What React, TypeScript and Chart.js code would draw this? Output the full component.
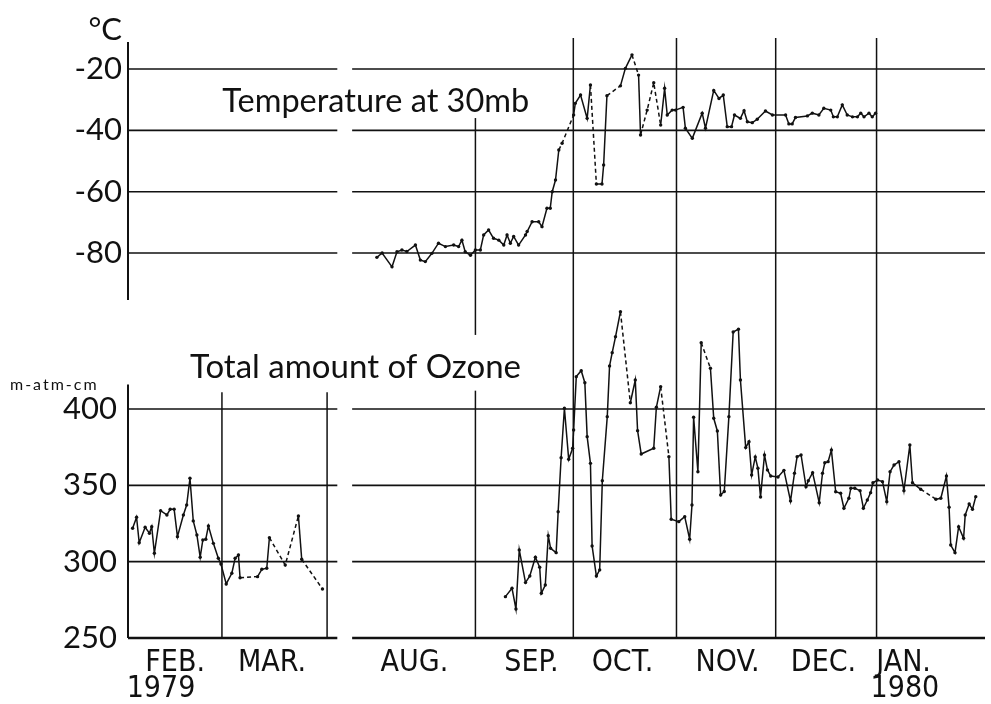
import React, { useEffect, useRef } from "react";
import { Chart, registerables } from "chart.js";
Chart.register(...registerables);

// x values are days counted from 1 Feb 1979 (with the Apr–Jul break collapsed)
const tempDays = [75.5, 77.1, 80.1, 81.6, 83.1, 84.6, 87.2, 88.7, 90.2, 92.2, 94.2, 96.3, 98.8, 100.3, 101.3, 102.3, 103.9, 105.4, 106.9, 107.9, 109.4, 110.9, 112.5, 114.0, 115.0, 116.0, 117.0, 118.5, 120.6, 121.1, 122.6, 124.6, 125.6, 127.1, 128.1, 128.7, 129.7, 130.7, 131.7, 135.2, 135.7, 137.3, 139.3, 140.3, 142.1, 143.8, 144.3, 145.3, 149.4, 150.9, 152.9, 154.9, 155.5, 157.5, 159.5, 161.6, 162.8, 163.6, 165.1, 166.1, 168.4, 169.1, 171.2, 174.2, 175.2, 177.7, 179.3, 180.6, 181.8, 183.1, 184.0, 185.8, 186.9, 187.9, 189.4, 190.9, 193.4, 195.5, 199.5, 200.5, 201.5, 202.5, 206.1, 207.6, 209.6, 211.1, 213.2, 214.0, 215.2, 216.7, 218.2, 219.8, 221.3, 222.3, 223.3, 224.8, 225.8, 226.8];
const tempValues = [-81.4, -80, -84.5, -79.6, -79, -79.5, -77.4, -82.3, -82.8, -80.1, -76.8, -77.9, -77.4, -77.9, -75.8, -79.6, -80.7, -79, -79, -74.1, -72.5, -75.2, -75.8, -77.4, -74.1, -76.8, -74.6, -77.4, -74.1, -73, -69.8, -69.8, -71.4, -65.4, -65.4, -60, -56.2, -46.4, -44.2, -35, -31.2, -28.5, -36.1, -25.2, -57.5, -57.5, -51.3, -28.7, -25.5, -19.8, -15.4, -22, -41.5, -33.4, -24.5, -38.3, -26.3, -35, -33.4, -33.4, -32.5, -39.3, -42.6, -34.4, -39.3, -27, -29.6, -28.5, -38.8, -38.8, -35, -36.1, -33.6, -37.2, -37.5, -36.4, -33.7, -35, -35, -37.9, -37.9, -35.8, -35.3, -34.4, -35, -32.8, -33.4, -35.6, -35.6, -31.7, -35, -35.6, -35.6, -34.4, -35.6, -34.4, -35.6, -34.4];
const tempDashedAfter = [130.7, 131.7, 140.3, 145.3, 152.9, 155.5, 157.5, 159.5];

const ozoneSpringDays = [1.4, 2.6, 3.4, 5.2, 6.5, 7.2, 8.0, 9.9, 11.8, 12.8, 14.0, 15.0, 16.8, 17.8, 18.8, 19.8, 20.9, 21.9, 22.7, 23.6, 24.4, 25.9, 27.4, 28.2, 29.8, 31.5, 32.5, 33.5, 34.0, 39.3, 40.6, 42.1, 42.9, 47.7, 51.7, 52.7, 59.0];
const ozoneSpringValues = [321.9, 329.1, 312.4, 322.5, 318.6, 322.9, 305.5, 333.4, 330.6, 334.3, 334.3, 316.4, 330.6, 337.1, 354.6, 326.7, 317.5, 302.9, 314.2, 314.7, 323.4, 312, 302.2, 298.5, 285.4, 292.4, 302.2, 304.4, 289.5, 290.2, 295, 295.7, 315.7, 297.8, 329.9, 301.6, 282.1];
const ozoneSpringDashedAfter = [34.0, 42.9, 47.7, 52.7];

const ozoneFallDays = [114.5, 116.5, 117.7, 118.7, 120.6, 121.9, 123.6, 124.9, 125.4, 126.6, 127.5, 128.2, 129.9, 130.5, 131.4, 132.4, 133.7, 134.9, 135.2, 136.0, 137.5, 138.6, 139.3, 140.3, 140.8, 142.1, 143.1, 143.9, 145.4, 146.1, 146.9, 147.9, 149.4, 152.4, 153.9, 154.6, 155.7, 159.5, 160.3, 161.6, 164.1, 164.8, 167.1, 168.9, 170.4, 171.1, 171.6, 172.9, 173.9, 176.7, 177.7, 178.8, 179.8, 180.9, 182.3, 183.6, 185.2, 185.8, 187.4, 188.4, 189.2, 190.3, 191.1, 191.9, 193.1, 194.0, 195.0, 197.2, 199.0, 201.0, 202.2, 203.0, 204.2, 205.7, 206.4, 207.7, 209.7, 210.7, 211.4, 212.4, 213.4, 214.7, 216.2, 217.2, 218.7, 219.3, 220.5, 222.1, 223.1, 224.3, 225.3, 226.0, 227.4, 228.9, 230.2, 231.2, 232.4, 233.9, 235.4, 237.2, 238.0, 240.5, 245.1, 246.6, 248.3, 249.1, 249.6, 250.9, 252.0, 253.5, 254.0, 255.2, 256.2, 257.2];
const ozoneFallValues = [277.1, 282.6, 269, 307.7, 286.3, 290.6, 302.9, 296.3, 279.3, 284.7, 317, 308.8, 305.9, 332.7, 368.1, 400.5, 367.1, 374.3, 386.2, 421.2, 425.1, 417.2, 381.9, 364.4, 310.3, 290.6, 294.6, 353, 395, 428.2, 436.9, 447.3, 463.7, 404.1, 419, 385.8, 370.5, 374.3, 401.1, 414.6, 368.8, 327.8, 326.2, 329.5, 314.7, 337.1, 394.6, 358.9, 443.4, 426.7, 393.9, 385.6, 343.7, 346, 395, 450.4, 452.3, 419, 374.7, 378.6, 356.8, 368.6, 361.2, 342.4, 369.9, 360.1, 356.1, 355.5, 359.8, 339.8, 357.9, 368.8, 369.9, 349.1, 353, 358.3, 338.6, 357.9, 364.8, 365.5, 373.1, 345.8, 344.8, 335, 341.5, 348.1, 348.1, 346.5, 335, 340.4, 345.2, 351.7, 353.5, 352.4, 339.3, 358.9, 363.3, 365.5, 346.5, 376.4, 351.7, 347.4, 340.9, 341.5, 356.1, 335.6, 310.9, 305.9, 322.9, 315.3, 330.6, 337.8, 334.3, 342.6];
const ozoneFallDashedAfter = [149.4, 161.6, 173.9, 240.5];

const tempTicks = [-80, -60, -40, -20];
const ozoneTicks = [250, 300, 350, 400];
const monthLabels = ["FEB.", "MAR.", "AUG.", "SEP.", "OCT.", "NOV.", "DEC.", "JAN."];
const monthLabelDays = [14.3, 43.7, 86.9, 122.4, 150, 181.9, 211, 235.3];
const yearLabels = ["1979", "1980"];
const yearLabelDays = [10, 235.7];
const monthBoundaryDays = [28.5, 60.4, 105.4, 135.1, 166.4, 196.5, 227.1];
const gridGapDays = [63.5, 68];

const INK = "#111";

function makeDataset(label: string, days: number[], values: number[], dashedAfter: number[], axis: string) {
  const dashSet = new Set(dashedAfter);
  return {
    label,
    yAxisID: axis,
    xAxisID: "x",
    data: days.map((d, i) => ({ x: d, y: values[i] })),
    borderColor: INK,
    borderWidth: 1.5,
    pointRadius: 1.7,
    pointBackgroundColor: INK,
    pointBorderWidth: 0,
    pointHoverRadius: 0,
    tension: 0,
    fill: false,
    segment: {
      borderDash: (ctx: any) => (dashSet.has(days[ctx.p0DataIndex]) ? [4, 3] : undefined),
    },
  };
}

const xTickItems = [
  ...monthLabelDays.map((d, i) => ({ value: d, label: monthLabels[i] })),
  ...yearLabelDays.map((d, i) => ({ value: d, label: ["", yearLabels[i]] })),
].sort((a, b) => a.value - b.value);

const decorPlugin = {
  id: "decor",
  beforeDatasetsDraw(chart: any) {
    const { ctx, chartArea, scales } = chart;
    const x = scales.x, yT = scales.yT, yO = scales.yO;
    const left = chartArea.left, right = chartArea.right;
    const gapL = x.getPixelForValue(gridGapDays[0]);
    const gapR = x.getPixelForValue(gridGapDays[1]);
    ctx.save();
    ctx.strokeStyle = INK;
    ctx.lineCap = "butt";
    const seg = (x1: number, y1: number, x2: number, y2: number, w: number) => {
      ctx.lineWidth = w;
      ctx.beginPath();
      ctx.moveTo(x1, y1);
      ctx.lineTo(x2, y2);
      ctx.stroke();
    };
    const hline = (py: number, w: number) => {
      seg(left, py, gapL, py, w);
      seg(gapR, py, right, py, w);
    };
    tempTicks.forEach((v) => hline(yT.getPixelForValue(v), 1.6));
    ozoneTicks.forEach((v) => hline(yO.getPixelForValue(v), v === 250 ? 2.4 : 1.6));
    // left axis lines
    seg(left, yT.getPixelForValue(-11.2), left, yT.getPixelForValue(-95.3), 2);
    seg(left, yO.getPixelForValue(416), left, yO.getPixelForValue(250), 2);
    // month boundaries
    const bottom = yO.getPixelForValue(250);
    monthBoundaryDays.forEach((d, i) => {
      const px = x.getPixelForValue(d);
      if (i < 2) {
        seg(px, yO.getPixelForValue(411), px, bottom, 1.5);
      } else if (i === 2) {
        seg(px, yT.getPixelForValue(-36), px, yT.getPixelForValue(-106.7), 1.5);
        seg(px, yO.getPixelForValue(412), px, bottom, 1.5);
      } else {
        seg(px, chartArea.top, px, bottom, 1.5);
      }
    });
    ctx.restore();
  },
  afterDraw(chart: any) {
    const { ctx, chartArea, scales } = chart;
    const x = scales.x, yT = scales.yT, yO = scales.yO;
    ctx.save();
    ctx.fillStyle = INK;
    ctx.textBaseline = "alphabetic";
    ctx.textAlign = "left";
    ctx.font = "32.5px Lato, 'DejaVu Sans', sans-serif";
    ctx.fillText("Temperature at 30mb", x.getPixelForValue(28.6), yT.getPixelForValue(-34));
    ctx.font = "33px Lato, 'DejaVu Sans', sans-serif";
    ctx.fillText("Total amount of Ozone", x.getPixelForValue(18.8), yO.getPixelForValue(420.3));
    ctx.textAlign = "right";
    ctx.font = "31px Lato, 'DejaVu Sans', sans-serif";
    ctx.fillText("°C", chartArea.left - 6, yT.getPixelForValue(-10.5));
    ctx.textAlign = "left";
    ctx.font = "16px Lato, 'DejaVu Sans', sans-serif";
    (ctx as any).letterSpacing = "2px";
    ctx.fillText("m-atm-cm", 10, yO.getPixelForValue(412.4));
    ctx.restore();
  },
};

export default function App() {
  const canvasRef = useRef<HTMLCanvasElement | null>(null);
  useEffect(() => {
    const canvas = canvasRef.current;
    if (!canvas) return;
    const chart = new Chart(canvas, {
      type: "line",
      data: {
        datasets: [
          makeDataset("Temperature at 30mb", tempDays, tempValues, tempDashedAfter, "yT"),
          makeDataset("Ozone 1979", ozoneSpringDays, ozoneSpringValues, ozoneSpringDashedAfter, "yO"),
          makeDataset("Ozone 1979-80", ozoneFallDays, ozoneFallValues, ozoneFallDashedAfter, "yO"),
        ] as any,
      },
      options: {
        animation: false,
        responsive: false,
        devicePixelRatio: 1,
        events: [],
        layout: { padding: { top: 38, right: 6, left: 0, bottom: 0 } },
        plugins: { legend: { display: false }, tooltip: { enabled: false }, title: { display: false } },
        scales: {
          x: {
            type: "linear",
            position: "bottom",
            min: 0,
            max: 260,
            afterBuildTicks: (s: any) => {
              s.ticks = xTickItems.map((t) => ({ value: t.value }));
            },
            afterFit: (s: any) => {
              s.height = 66;
            },
            ticks: {
              autoSkip: false,
              maxRotation: 0,
              minRotation: 0,
              padding: 12,
              color: INK,
              font: { family: "'DejaVu Sans Condensed', 'DejaVu Sans', sans-serif", size: 30, lineHeight: 0.87 },
              callback: (v: any) => {
                const it = xTickItems.find((t) => Math.abs(t.value - v) < 1e-6);
                return it ? it.label : "";
              },
            },
            grid: { display: false, drawTicks: false },
            border: { display: false },
          },
          yT: {
            type: "linear",
            position: "left",
            weight: 10,
            min: -205.5,
            max: -9.9,
            afterBuildTicks: (s: any) => {
              s.ticks = tempTicks.map((v) => ({ value: v }));
            },
            afterFit: (s: any) => {
              s.width = 128;
            },
            ticks: {
              padding: 6,
              color: INK,
              font: { family: "Lato, 'DejaVu Sans', sans-serif", size: 31 },
              callback: (v: any) => "-" + Math.abs(v),
            },
            grid: { display: false, drawTicks: false },
            border: { display: false },
          },
          yO: {
            type: "linear",
            position: "left",
            weight: 0,
            min: 250,
            max: 643,
            afterBuildTicks: (s: any) => {
              s.ticks = ozoneTicks.map((v) => ({ value: v }));
            },
            afterFit: (s: any) => {
              s.width = 0;
            },
            ticks: {
              mirror: true,
              padding: -65,
              color: INK,
              font: { family: "Lato, 'DejaVu Sans', sans-serif", size: 31 },
              callback: (v: any) => String(v),
            },
            grid: { display: false, drawTicks: false },
            border: { display: false },
          },
        },
      } as any,
      plugins: [decorPlugin],
    });
    return () => chart.destroy();
  }, []);
  return (
    <div style={{ position: "fixed", left: 0, top: 0, width: 991, height: 704, background: "#fff" }}>
      <canvas ref={canvasRef} width={991} height={704} style={{ display: "block", width: 991, height: 704 }} />
    </div>
  );
}
